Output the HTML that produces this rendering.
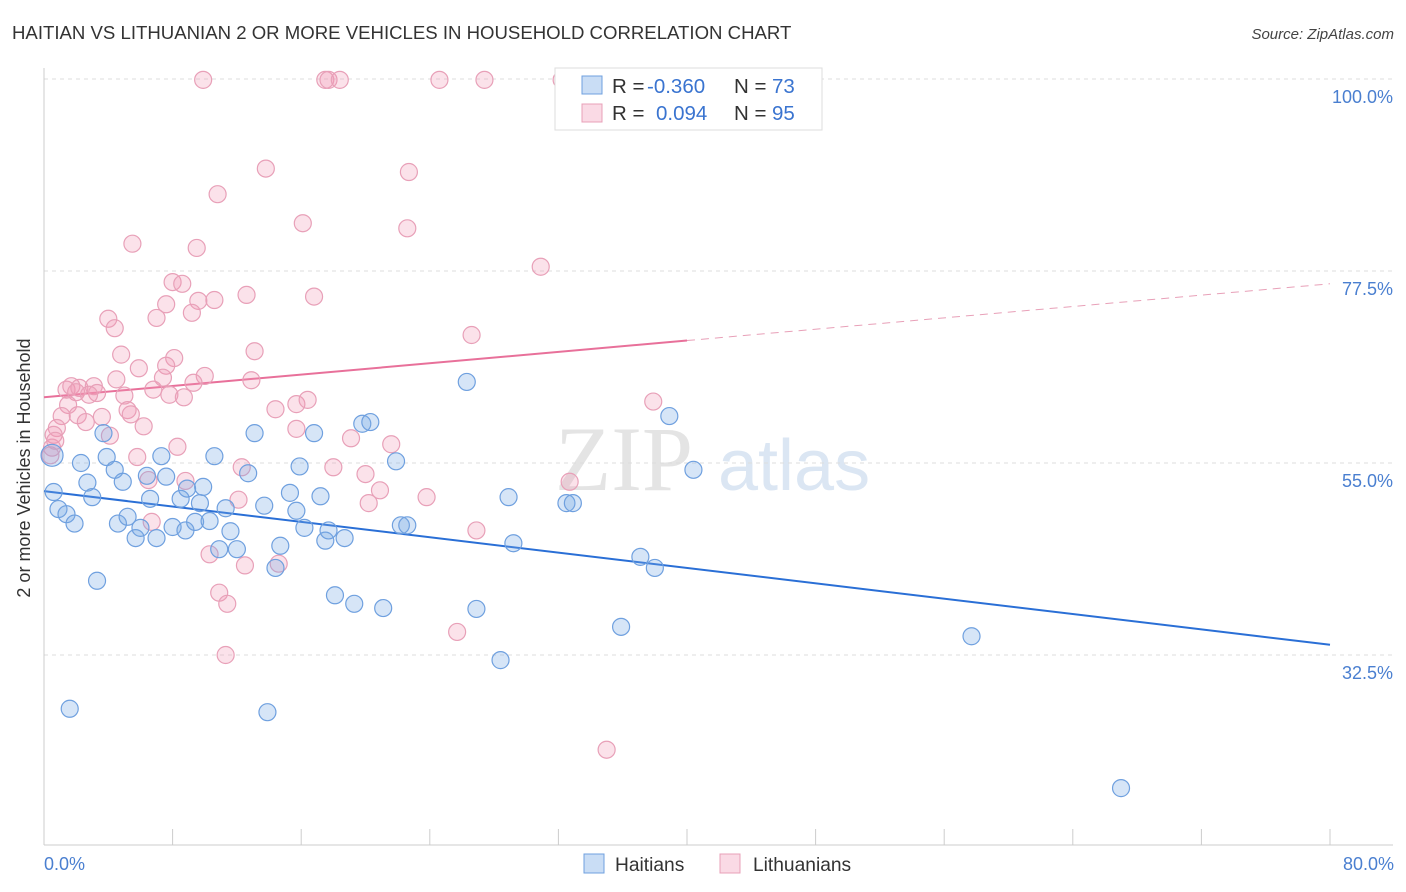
<!DOCTYPE html>
<html><head><meta charset="utf-8"><style>
body{margin:0;background:#fff;font-family:"Liberation Sans",sans-serif;}
svg{display:block}
</style></head><body>
<svg id="chart" width="1406" height="892" xmlns="http://www.w3.org/2000/svg">
<text x="12" y="39" font-size="18.6" fill="#333">HAITIAN VS LITHUANIAN 2 OR MORE VEHICLES IN HOUSEHOLD CORRELATION CHART</text>
<text x="1394" y="39" font-size="15" fill="#444" font-style="italic" text-anchor="end">Source: ZipAtlas.com</text>
<g>
<text x="555" y="490" font-size="92" font-family="Liberation Serif,serif" fill="#e4e4e4">ZIP</text>
<text x="718" y="490" font-size="72" fill="#dbe6f3">atlas</text>
</g>
<g id="grid"></g>
<g id="axes"></g>
<g id="lines"></g>
<g id="pts"></g>
<text x="18" y="456" font-size="18" fill="#333" text-anchor="middle" transform="rotate(-90 30 456)">2 or more Vehicles in Household</text>
<text x="44" y="870" font-size="18" fill="#4a7fd0">0.0%</text>
<text x="1394" y="870" font-size="18" fill="#4a7fd0" text-anchor="end">80.0%</text>
<g>
<rect x="555" y="68" width="267" height="62" fill="#fff" stroke="#ddd"/>
<rect x="582" y="76" width="20" height="18" fill="rgba(120,170,230,0.4)" stroke="#6fa0df"/>
<rect x="582" y="104" width="20" height="18" fill="rgba(240,150,180,0.35)" stroke="#e8a0b8"/>
<text x="612" y="93" font-size="20.5" fill="#333">R =</text>
<text x="647" y="93" font-size="20.5" fill="#3a74d0">-0.360</text>
<text x="734" y="93" font-size="20.5" fill="#333">N =</text>
<text x="772" y="93" font-size="20.5" fill="#3a74d0">73</text>
<text x="612" y="120" font-size="20.5" fill="#333">R =</text>
<text x="656" y="120" font-size="20.5" fill="#3a74d0">0.094</text>
<text x="734" y="120" font-size="20.5" fill="#333">N =</text>
<text x="772" y="120" font-size="20.5" fill="#3a74d0">95</text>
</g>
<g>
<rect x="584" y="854" width="20" height="19" fill="rgba(120,170,230,0.4)" stroke="#6fa0df"/>
<text x="615" y="871" font-size="19.2" fill="#333">Haitians</text>
<rect x="720" y="854" width="20" height="19" fill="rgba(240,150,180,0.35)" stroke="#e8a0b8"/>
<text x="753" y="871" font-size="19.2" fill="#333">Lithuanians</text>
</g>
</svg>
<script>
const yTicks=[100,77.5,55,32.5];
const yTickLabels=["100.0%","77.5%","55.0%","32.5%"];
const haitians=[[0.5,55.9],[0.6,51.6],[0.9,49.6],[1.4,49.0],[1.9,47.9],[1.6,26.2],[2.3,55.0],[2.7,52.7],[3.0,51.0],[3.3,41.2],[3.7,58.5],[3.9,55.7],[4.4,54.2],[4.6,47.9],[4.9,52.8],[5.2,48.7],[5.7,46.2],[6.0,47.4],[6.4,53.5],[6.6,50.8],[7.0,46.2],[7.3,55.8],[7.6,53.4],[8.0,47.5],[8.5,50.8],[8.8,47.1],[8.9,52.0],[9.4,48.1],[9.7,50.3],[9.9,52.2],[10.3,48.2],[10.6,55.8],[10.9,44.9],[11.3,49.7],[11.6,47.0],[12.0,44.9],[12.7,53.8],[13.1,58.5],[13.7,50.0],[13.9,25.8],[14.4,42.7],[14.7,45.3],[15.3,51.5],[15.7,49.4],[15.9,54.6],[16.2,47.4],[16.8,58.5],[17.2,51.1],[17.5,45.9],[17.7,47.1],[18.1,39.5],[18.7,46.2],[19.3,38.5],[19.8,59.6],[20.3,59.8],[21.1,38.0],[21.9,55.2],[22.2,47.7],[22.6,47.7],[26.3,64.5],[26.9,37.9],[28.4,31.9],[28.9,51.0],[29.2,45.6],[32.5,50.3],[32.9,50.3],[35.9,35.8],[37.1,44.0],[38.0,42.7],[38.9,60.5],[40.4,54.2],[57.7,34.7],[67.0,16.9]];
const lithuanians=[[9.9,99.9],[17.5,99.9],[17.7,99.9],[18.4,99.9],[24.6,99.9],[27.4,99.9],[32.2,99.9],[13.8,89.5],[22.7,89.1],[10.8,86.5],[16.1,83.1],[22.6,82.5],[5.5,80.7],[9.5,80.2],[30.9,78.0],[8.0,76.2],[8.6,76.0],[16.8,74.5],[12.6,74.7],[10.6,74.1],[9.6,74.0],[7.6,73.6],[4.0,71.9],[9.2,72.6],[7.0,72.0],[4.4,70.8],[26.6,70.0],[13.1,68.1],[4.8,67.7],[8.1,67.3],[5.9,66.1],[7.6,66.4],[10.0,65.2],[4.5,64.8],[7.4,65.0],[12.9,64.7],[9.3,64.4],[1.4,63.6],[1.7,64.0],[2.2,63.8],[3.1,64.0],[3.3,63.2],[2.0,63.3],[2.8,63.0],[6.8,63.6],[7.8,63.0],[5.0,62.9],[8.7,62.7],[1.5,61.8],[5.2,61.2],[1.1,60.5],[2.1,60.6],[3.6,60.4],[14.4,61.3],[15.7,61.9],[16.4,62.4],[37.9,62.2],[2.6,59.8],[5.4,60.7],[6.2,59.3],[0.8,59.1],[15.7,59.0],[0.6,58.3],[4.1,58.2],[19.1,57.9],[21.6,57.2],[0.5,56.8],[0.4,55.9],[5.8,55.7],[8.3,56.9],[0.7,57.6],[12.3,54.5],[18.0,54.5],[20.0,53.7],[6.5,53.0],[8.8,52.9],[32.7,52.8],[20.9,51.8],[23.8,51.0],[12.1,50.7],[20.2,50.3],[6.7,48.1],[26.9,47.1],[10.3,44.3],[12.5,43.0],[14.6,43.2],[10.9,39.8],[11.4,38.5],[11.3,32.5],[25.7,35.2],[35.0,21.4]];
const blueTrend=[[0,51.7],[80,33.7]];
const pinkTrend=[[0,62.7],[80,76.0]];
const pinkSolidEnd=40;

const NS="http://www.w3.org/2000/svg";
const X=v=>44+v/80*1286;
const Y=v=>79+(100-v)/22.5*192;
function mk(tag,attrs,parent){const e=document.createElementNS(NS,tag);for(const k in attrs)e.setAttribute(k,attrs[k]);parent.appendChild(e);return e;}
const grid=document.getElementById('grid'),axes=document.getElementById('axes'),lines=document.getElementById('lines'),pts=document.getElementById('pts');
yTicks.forEach((t,i)=>{
  const l=mk('line',{x1:44,x2:1393,y1:Y(t),y2:Y(t),stroke:'#ddd','stroke-dasharray':'4,4'},grid);
  
  
  const tx=mk('text',{x:1393,y:Y(t)+24,'font-size':18,fill:'#4a7fd0','text-anchor':'end'},grid);
  tx.textContent=yTickLabels[i];
  
  
});
mk('line',{x1:44,x2:44,y1:68,y2:845,stroke:'#ccc'},axes);
mk('line',{x1:44,x2:1393,y1:845,y2:845,stroke:'#ccc'},axes);
for(let k=0;k<=10;k++){const t=mk('line',{x1:X(k*8),x2:X(k*8),y1:829,y2:845,stroke:'#ccc'},axes);
  
  }
let bl=mk('line',{x1:X(blueTrend[0][0]),y1:Y(blueTrend[0][1]),x2:X(blueTrend[1][0]),y2:Y(blueTrend[1][1]),stroke:'#2a6fd6','stroke-width':2},lines);


const py=x=>pinkTrend[0][1]+(pinkTrend[1][1]-pinkTrend[0][1])*(x-pinkTrend[0][0])/(pinkTrend[1][0]-pinkTrend[0][0]);
let pl=mk('line',{x1:X(0),y1:Y(py(0)),x2:X(pinkSolidEnd),y2:Y(py(pinkSolidEnd)),stroke:'#e8709a','stroke-width':2},lines);


let pd=mk('line',{x1:X(pinkSolidEnd),y1:Y(py(pinkSolidEnd)),x2:X(80),y2:Y(py(80)),stroke:'#e8a0b8','stroke-width':1,'stroke-dasharray':'8,6'},lines);


lithuanians.forEach(p=>{const c=mk('circle',{cx:X(p[0]),cy:Y(p[1]),r:8.5,fill:'rgba(240,150,180,0.28)',stroke:'#e8a0b8','stroke-width':1.2},pts);
  
  });
haitians.forEach((p,i)=>{const c=mk('circle',{cx:X(p[0]),cy:Y(p[1]),r:i==0?11:8.5,fill:'rgba(120,170,230,0.3)',stroke:'#6fa0df','stroke-width':1.2},pts);
  
  });
</script>
</body></html>
